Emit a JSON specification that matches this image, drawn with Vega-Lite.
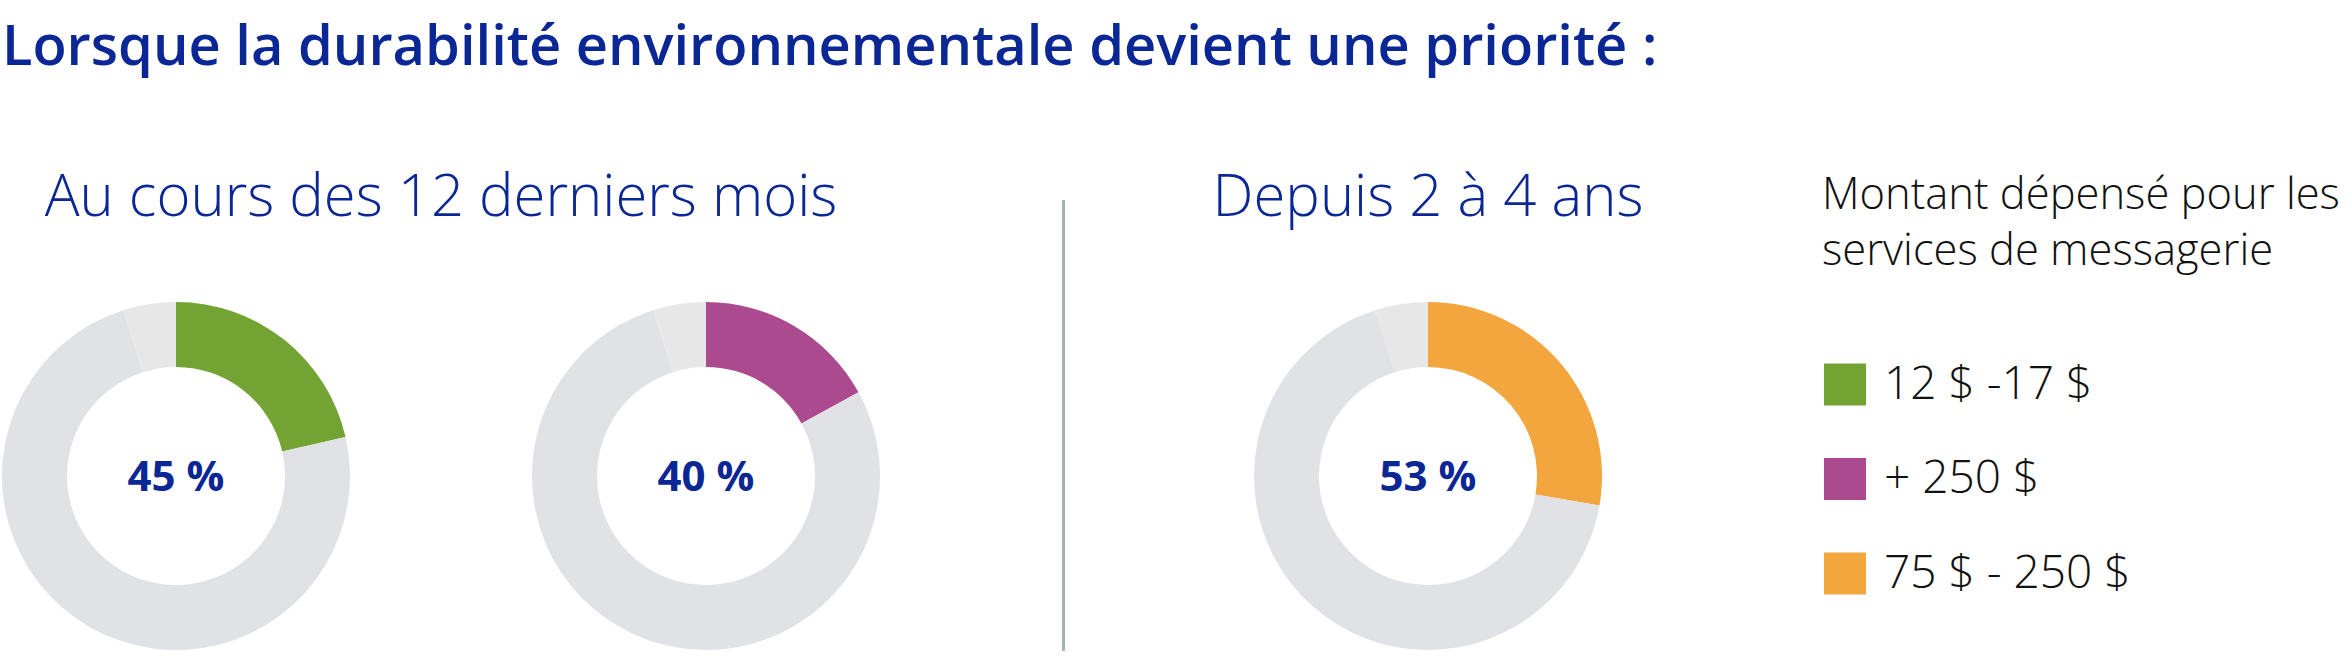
{
  "$schema": "https://vega.github.io/schema/vega-lite/v6.json",
  "background": "white",
  "padding": {"left": 2, "top": 20, "right": 0, "bottom": 0},
  "config": {
    "view": {"stroke": null},
    "font": "Open Sans",
    "title": {"font": "Open Sans", "color": "#0b2795"}
  },
  "datasets": {
    "segments": [
      {"panneau": "A", "part": "12 $ -17 $", "valeur": 21.4},
      {"panneau": "A", "part": "reste", "valeur": 73.7},
      {"panneau": "A", "part": "reste clair", "valeur": 4.9},
      {"panneau": "B", "part": "+ 250 $", "valeur": 17.0},
      {"panneau": "B", "part": "reste", "valeur": 78.1},
      {"panneau": "B", "part": "reste clair", "valeur": 4.9},
      {"panneau": "C", "part": "75 $ - 250 $", "valeur": 27.7},
      {"panneau": "C", "part": "reste", "valeur": 67.4},
      {"panneau": "C", "part": "reste clair", "valeur": 4.9}
    ],
    "etiquettes": [
      {"panneau": "A", "etiquette": "45 %"},
      {"panneau": "B", "etiquette": "40 %"},
      {"panneau": "C", "etiquette": "53 %"}
    ],
    "periodes": [
      {"periode": "12 mois", "titre": "Au cours des 12 derniers mois"},
      {"periode": "2 à 4 ans", "titre": "Depuis 2 à 4 ans"}
    ]
  },
  "title": {
    "text": "Lorsque la durabilité environnementale devient une priorité :",
    "anchor": "start",
    "fontSize": 56,
    "fontWeight": 600,
    "color": "#0b2795",
    "baseline": "alphabetic",
    "offset": 49
  },
  "spacing": 147,
  "hconcat": [
    {
      "spacing": 181,
      "hconcat": [
        {
          "spacing": 0,
          "vconcat": [
            {
              "width": 878,
              "height": 102,
              "data": {"name": "periodes"},
              "transform": [{"filter": "datum.periode === '12 mois'"}],
              "mark": {"type": "text", "fontSize": 58, "fontWeight": 300, "color": "#0b2795", "baseline": "alphabetic", "dy": -35},
              "encoding": {"text": {"field": "titre", "type": "nominal"}}
            },
            {
              "spacing": 182,
              "hconcat": [
                {
                  "width": 348,
                  "height": 348,
                  "layer": [
                    {
                      "data": {"name": "segments"},
                      "transform": [{"filter": "datum.panneau === 'A'"}],
                      "mark": {"type": "arc", "radius": 174, "radius2": 109},
                      "encoding": {
                        "theta": {"field": "valeur", "type": "quantitative", "stack": true},
                        "order": {"field": "part", "type": "ordinal", "sort": "ascending"},
                        "color": {
                          "field": "part",
                          "type": "nominal",
                          "scale": {
                            "domain": ["12 $ -17 $", "+ 250 $", "75 $ - 250 $", "reste", "reste clair"],
                            "range": ["#72a333", "#ab4a8e", "#f3a53e", "#e1e2e6", "#e7e7e7"]
                          },
                          "legend": {
                            "values": ["12 $ -17 $", "+ 250 $", "75 $ - 250 $"],
                            "title": ["Montant dépensé pour les", "services de messagerie"],
                            "orient": "right",
                            "offset": 169,
                            "padding": 9,
                            "symbolType": "square",
                            "symbolSize": 1764,
                            "symbolStrokeWidth": 0,
                            "symbolOpacity": 1,
                            "labelFont": "Open Sans",
                            "labelFontSize": 46,
                            "labelFontWeight": 300,
                            "labelColor": "#111111",
                            "labelOffset": 16,
                            "labelLimit": 400,
                            "rowPadding": 48.5,
                            "titleFont": "Open Sans",
                            "titleFontSize": 43.5,
                            "titleFontWeight": 300,
                            "titleColor": "#111111",
                            "titleBaseline": "alphabetic",
                            "titleLineHeight": 56,
                            "titlePadding": 53,
                            "titleLimit": 600
                          }
                        }
                      }
                    },
                    {
                      "data": {"name": "etiquettes"},
                      "transform": [{"filter": "datum.panneau === 'A'"}],
                      "mark": {"type": "text", "fontSize": 42, "fontWeight": 700, "color": "#0b2795", "baseline": "alphabetic", "dy": 15},
                      "encoding": {"text": {"field": "etiquette", "type": "nominal"}}
                    }
                  ]
                },
                {
                  "width": 348,
                  "height": 348,
                  "layer": [
                    {
                      "data": {"name": "segments"},
                      "transform": [{"filter": "datum.panneau === 'B'"}],
                      "mark": {"type": "arc", "radius": 174, "radius2": 109},
                      "encoding": {
                        "theta": {"field": "valeur", "type": "quantitative", "stack": true},
                        "order": {"field": "part", "type": "ordinal", "sort": "ascending"},
                        "color": {"field": "part", "type": "nominal"}
                      }
                    },
                    {
                      "data": {"name": "etiquettes"},
                      "transform": [{"filter": "datum.panneau === 'B'"}],
                      "mark": {"type": "text", "fontSize": 42, "fontWeight": 700, "color": "#0b2795", "baseline": "alphabetic", "dy": 15},
                      "encoding": {"text": {"field": "etiquette", "type": "nominal"}}
                    }
                  ]
                }
              ]
            }
          ]
        },
        {
          "width": 3,
          "height": 451,
          "view": {"fill": "#aab2b5", "stroke": null},
          "data": {"values": [{"separateur": 1}]},
          "mark": "rule",
          "encoding": {}
        }
      ]
    },
    {
      "spacing": 0,
      "vconcat": [
        {
          "width": 348,
          "height": 102,
          "data": {"name": "periodes"},
          "transform": [{"filter": "datum.periode === '2 à 4 ans'"}],
          "mark": {"type": "text", "fontSize": 58, "fontWeight": 300, "color": "#0b2795", "baseline": "alphabetic", "dy": -35},
          "encoding": {"text": {"field": "titre", "type": "nominal"}}
        },
        {
          "width": 348,
          "height": 348,
          "layer": [
            {
              "data": {"name": "segments"},
              "transform": [{"filter": "datum.panneau === 'C'"}],
              "mark": {"type": "arc", "radius": 174, "radius2": 109},
              "encoding": {
                "theta": {"field": "valeur", "type": "quantitative", "stack": true},
                "order": {"field": "part", "type": "ordinal", "sort": "ascending"},
                "color": {"field": "part", "type": "nominal"}
              }
            },
            {
              "data": {"name": "etiquettes"},
              "transform": [{"filter": "datum.panneau === 'C'"}],
              "mark": {"type": "text", "fontSize": 42, "fontWeight": 700, "color": "#0b2795", "baseline": "alphabetic", "dy": 15},
              "encoding": {"text": {"field": "etiquette", "type": "nominal"}}
            }
          ]
        }
      ]
    }
  ],
  "resolve": {"scale": {"color": "shared"}}
}
